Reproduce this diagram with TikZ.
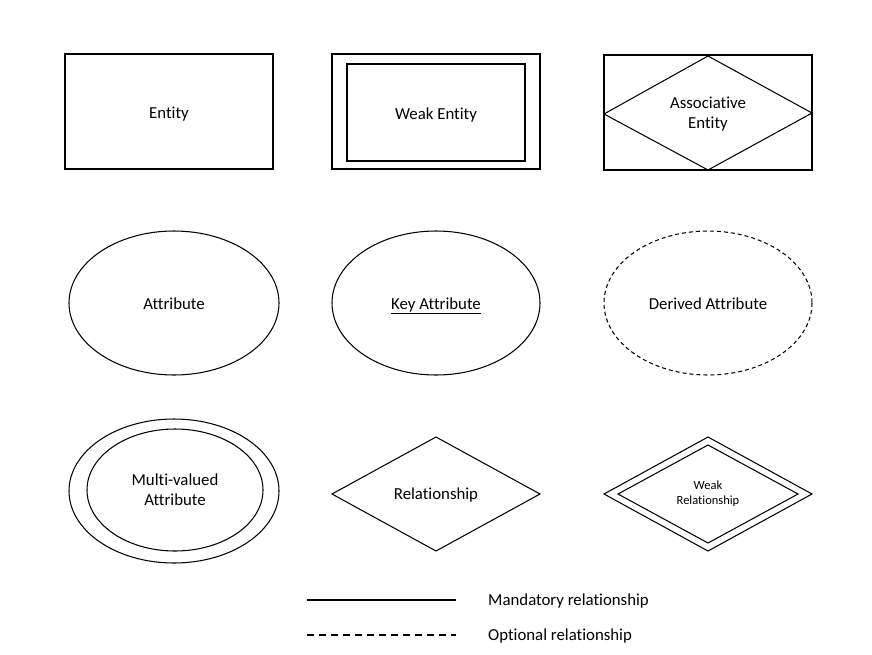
\documentclass[tikz,border=0pt]{standalone}
\usepackage{fontspec}
\setmainfont[Ligatures=NoCommon]{Carlito}
\usetikzlibrary{shapes.geometric}
\tikzset{
  shp/.style={draw=black, line width=1.05pt},
  lbl/.style={font=\fontsize{16.8}{20}\selectfont, align=center, inner sep=0pt},
  small/.style={font=\fontsize{12.5}{15}\selectfont, align=center, inner sep=0pt}
}
\begin{document}
\begin{tikzpicture}[x=1pt,y=-1pt]
\useasboundingbox (0,0) rectangle (872,654);
% row 1
\draw[shp] (65,54) rectangle (273,169);
\node[lbl] (ent) at (169,114) {Entity};
\draw[shp] (332,54) rectangle (540,169);
\draw[shp] (347,64) rectangle (525,161);
\node[lbl] (went) at (436,115) {Weak Entity};
\draw[shp] (604,55) rectangle (812,170);
\draw[shp] (708,56) -- (812,113) -- (708,170) -- (604,114) -- cycle;
\node[lbl] (aent) at (708,114) {Associative\\Entity};
% row 2
\draw[shp] (174,303) ellipse [x radius=105, y radius=72];
\node[lbl] (attr) at (174,304) {Attribute};
\draw[shp] (436,303) ellipse [x radius=104, y radius=72];
\node[lbl] (kattr) at (436,306) {\underline{Key Attribute}};
\draw[shp, dash pattern=on 4pt off 3pt] (708,303) ellipse [x radius=104, y radius=72];
\node[lbl] (dattr) at (708,304) {Derived Attribute};
% row 3
\draw[shp] (174,491) ellipse [x radius=105, y radius=72];
\draw[shp] (175,490) ellipse [x radius=88, y radius=61];
\node[lbl] (mattr) at (175,490) {Multi-valued\\Attribute};
\draw[shp] (436,437) -- (540,494) -- (436,551) -- (332,494) -- cycle;
\node[lbl] (rel) at (436,495) {Relationship};
\draw[shp] (708,437) -- (812,494) -- (708,551) -- (604,494) -- cycle;
\draw[shp] (708,445) -- (798,494) -- (708,543) -- (618,494) -- cycle;
\node[small] (wrel) at (708,494) {Weak\\Relationship};
% legend
\coordinate (m1) at (307,600);
\coordinate (m2) at (456,600);
\coordinate (o1) at (307,635);
\coordinate (o2) at (456,635);
\draw[shp] (m1) -- (m2);
\draw[shp, dash pattern=on 7pt off 5pt] (o1) -- (o2);
\node[lbl, anchor=west] (mand) at (488,601) {Mandatory relationship};
\node[lbl, anchor=west] (opt) at (488,636) {Optional relationship};
\end{tikzpicture}
\end{document}
